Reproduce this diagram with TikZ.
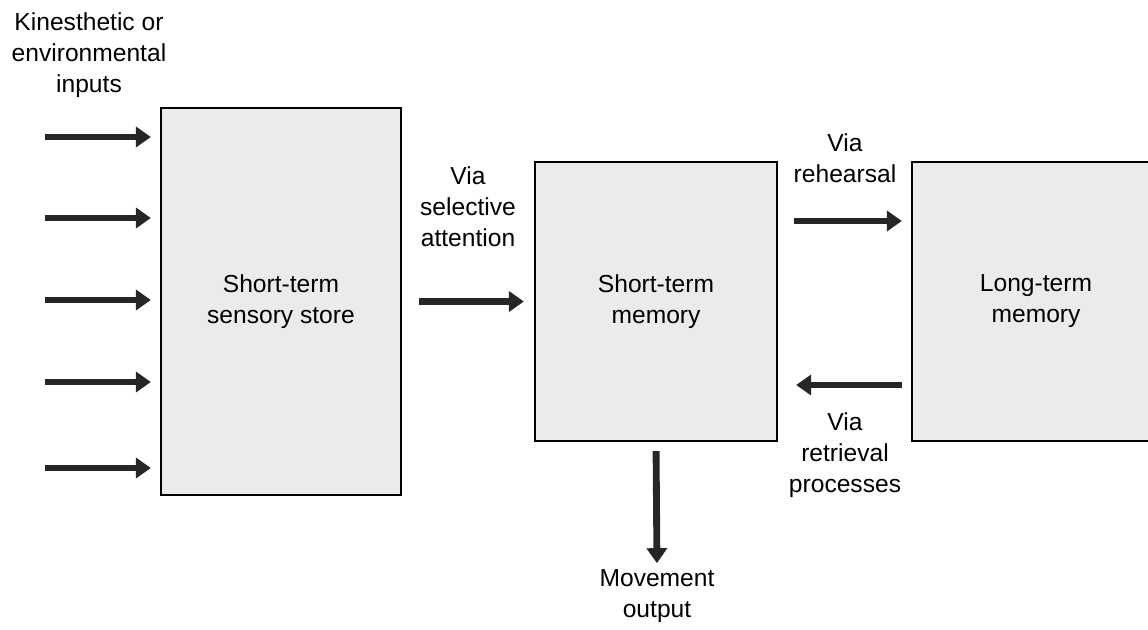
\documentclass[tikz,border=0pt]{standalone}
\usepackage{fontspec}
\setmainfont{Liberation Sans}
\usetikzlibrary{arrows.meta}
\tikzset{
	store/.style={draw=black, line width=1.3pt, fill=gray!16, inner sep=0pt, align=center, font=\fontsize{14}{17.6}\selectfont},
	txt/.style={inner sep=0pt, align=center, font=\fontsize{14}{17.6}\selectfont},
	flow/.style={black!85, line width=3.9pt, -{Triangle[length=0.3cm, width=0.4cm]}}
}
\begin{document}
\begin{tikzpicture}[x=0.02cm, y=-0.02cm]
	\useasboundingbox (0,0) rectangle (1148,629);
	% the three stores
	\node[store, minimum width=4.8cm, minimum height=7.74cm] (sensory) at (281,301.5) {Short-term\\sensory store};
	\node[store, minimum width=4.84cm, minimum height=5.58cm] (stm) at (656,301.5) {Short-term\\memory};
	\node[store, minimum width=4.96cm, minimum height=5.58cm] (ltm) at (1036,301.5) {Long-term\\memory};
	% labels
	\node[txt] (inputs) at (89,55) {Kinesthetic or\\environmental\\inputs};
	\node[txt] (attention) at (468,207) {Via\\selective\\attention};
	\node[txt] (rehearsal) at (845,158) {Via\\rehearsal};
	\node[txt] (retrieval) at (845,455) {Via\\retrieval\\processes};
	\node[txt] (move) at (657,596) {Movement\\output};
	% inputs
	\foreach \y [count=\i] in {137,218,300,382,468} {
		\coordinate (in\i) at (45,\y);
		\draw[flow, shorten >=0.18cm] (in\i) -- (in\i -| sensory.west);
	}
	\draw[flow, shorten <=0.34cm, shorten >=0.2cm] (sensory.east |- stm.west) -- (stm.west);
	\coordinate (rh) at (845,221);
	\coordinate (rt) at (845,385);
	\draw[flow, shorten <=0.32cm, shorten >=0.18cm] (rh -| stm.east) -- (rh -| ltm.west);
	\draw[flow, shorten <=0.18cm, shorten >=0.36cm] (rt -| ltm.west) -- (rt -| stm.east);
	\draw[flow, shorten <=0.18cm, shorten >=0.12cm] (stm.south) -- (move.north);
\end{tikzpicture}
\end{document}
